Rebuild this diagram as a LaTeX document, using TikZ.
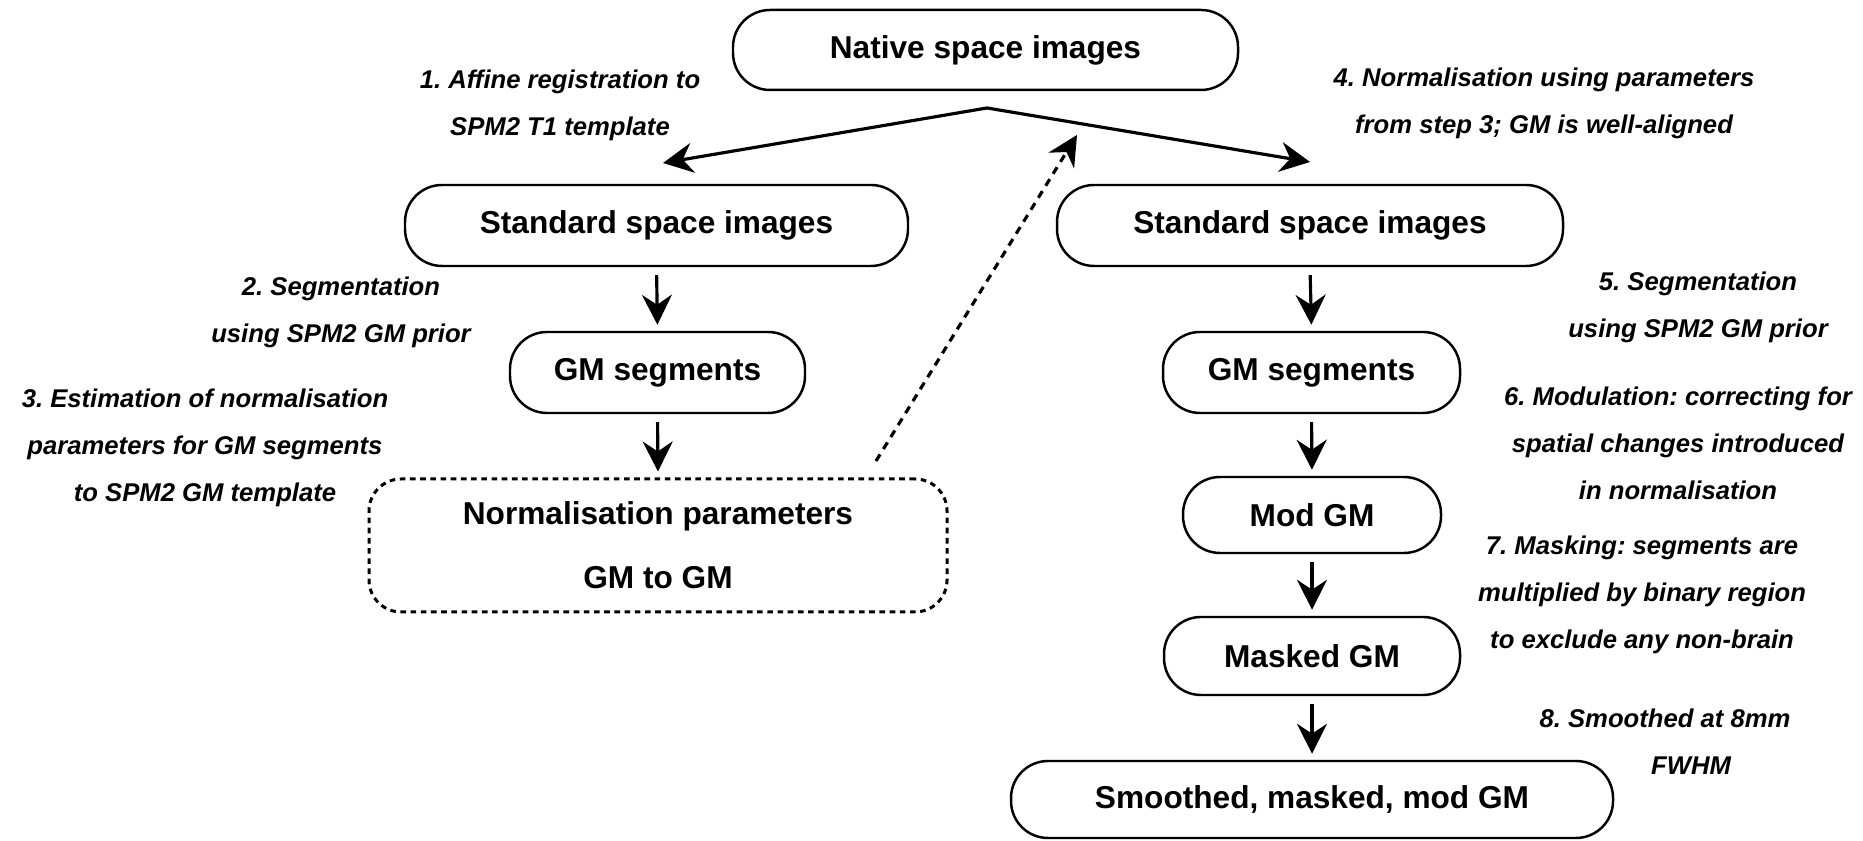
\documentclass[tikz,border=0pt]{standalone}
\usepackage{fontspec}
\setmainfont{Liberation Sans}
\usetikzlibrary{arrows.meta}
\frenchspacing
\tikzset{flow box/.style={
		draw, line width=0.7pt, rounded corners=0.37cm, inner sep=0pt,
		font=\fontsize{9}{11}\selectfont\bfseries}}
\tikzset{param box/.style={
		flow box, line width=0.85pt, dash pattern=on 1.6pt off 1.3pt, rounded corners=0.32cm, align=center,
		font=\fontsize{9}{18.1}\selectfont\bfseries}}
\tikzset{step text/.style={
		align=center, font=\fontsize{7.3}{13.4}\selectfont\bfseries\itshape}}
\tikzset{flow arrow/.style={
		line width=0.9pt, -{Stealth[length=3mm,width=3mm,inset=1mm]},
		shorten <=0.8mm, shorten >=0.6mm}}

\begin{document}
\begin{tikzpicture}
  \useasboundingbox (0,0) rectangle (18.63,8.41);

  \node[flow box, minimum width=5.05cm, minimum height=0.80cm] (native) at (9.855,7.91) {Native space images};
  \node[flow box, minimum width=5.03cm, minimum height=0.81cm] (stdL) at (6.565,6.155) {Standard space images};
  \node[flow box, minimum width=5.06cm, minimum height=0.81cm] (stdR) at (13.10,6.155) {Standard space images};
  \node[flow box, minimum width=2.95cm, minimum height=0.81cm] (gmL) at (6.575,4.685) {GM segments};
  \node[param box, minimum width=5.78cm, minimum height=1.33cm] (norm) at (6.58,2.955) {Normalisation parameters\\GM to GM};
  \node[flow box, minimum width=2.97cm, minimum height=0.81cm] (gmR) at (13.115,4.685) {GM segments};
  \node[flow box, minimum width=2.58cm, minimum height=0.76cm] (mod) at (13.12,3.26) {Mod GM};
  \node[flow box, minimum width=2.96cm, minimum height=0.78cm] (masked) at (13.12,1.85) {Masked GM};
  \node[flow box, minimum width=6.02cm, minimum height=0.77cm] (smooth) at (13.12,0.415) {Smoothed, masked, mod GM};

  \coordinate (apex) at (9.87,7.33);
  \coordinate (tipL) at (6.63,6.78);
  \coordinate (tipR) at (13.10,6.79);
  \coordinate (back) at (8.76,3.80);
  \coordinate (backtip) at (10.77,7.06);

  \draw[flow arrow, shorten <=0pt, shorten >=0pt] (apex) -- (tipL);
  \draw[flow arrow, shorten <=0pt, shorten >=0pt] (apex) -- (tipR);
  \draw[flow arrow, shorten <=0pt, shorten >=0pt, dash pattern=on 2.2pt off 1.8pt] (back) -- (backtip);

  \draw[flow arrow] (stdL.south) -- (gmL.north);
  \draw[flow arrow] (gmL.south) -- (norm.north);
  \draw[flow arrow] (stdR.south) -- (gmR.north);
  \draw[flow arrow] (gmR.south) -- (mod.north);
  \draw[flow arrow] (mod.south) -- (masked.north);
  \draw[flow arrow] (masked.south) -- (smooth.north);

  \node[step text] (s1) at (5.60,7.36) {1. Affine registration to\\SPM2 T1 template};
  \node[step text] (s2) at (3.41,5.285) {2. Segmentation\\using SPM2 GM prior};
  \node[step text] (s3) at (2.05,3.93) {3. Estimation of normalisation\\parameters for GM segments\\to SPM2 GM template};
  \node[step text] (s4) at (15.44,7.38) {4. Normalisation using parameters\\from step 3; GM is well-aligned};
  \node[step text] (s5) at (16.98,5.335) {5. Segmentation\\using SPM2 GM prior};
  \node[step text] (s6) at (16.78,3.98) {6. Modulation: correcting for\\spatial changes introduced\\in normalisation};
  \node[step text] (s7) at (16.42,2.46) {7. Masking: segments are\\multiplied by binary region\\to exclude any non-brain};
  \node[step text] (s8) at (16.65,0.995) {8. Smoothed at 8mm\\\hspace*{0.52cm}FWHM};
\end{tikzpicture}
\end{document}
